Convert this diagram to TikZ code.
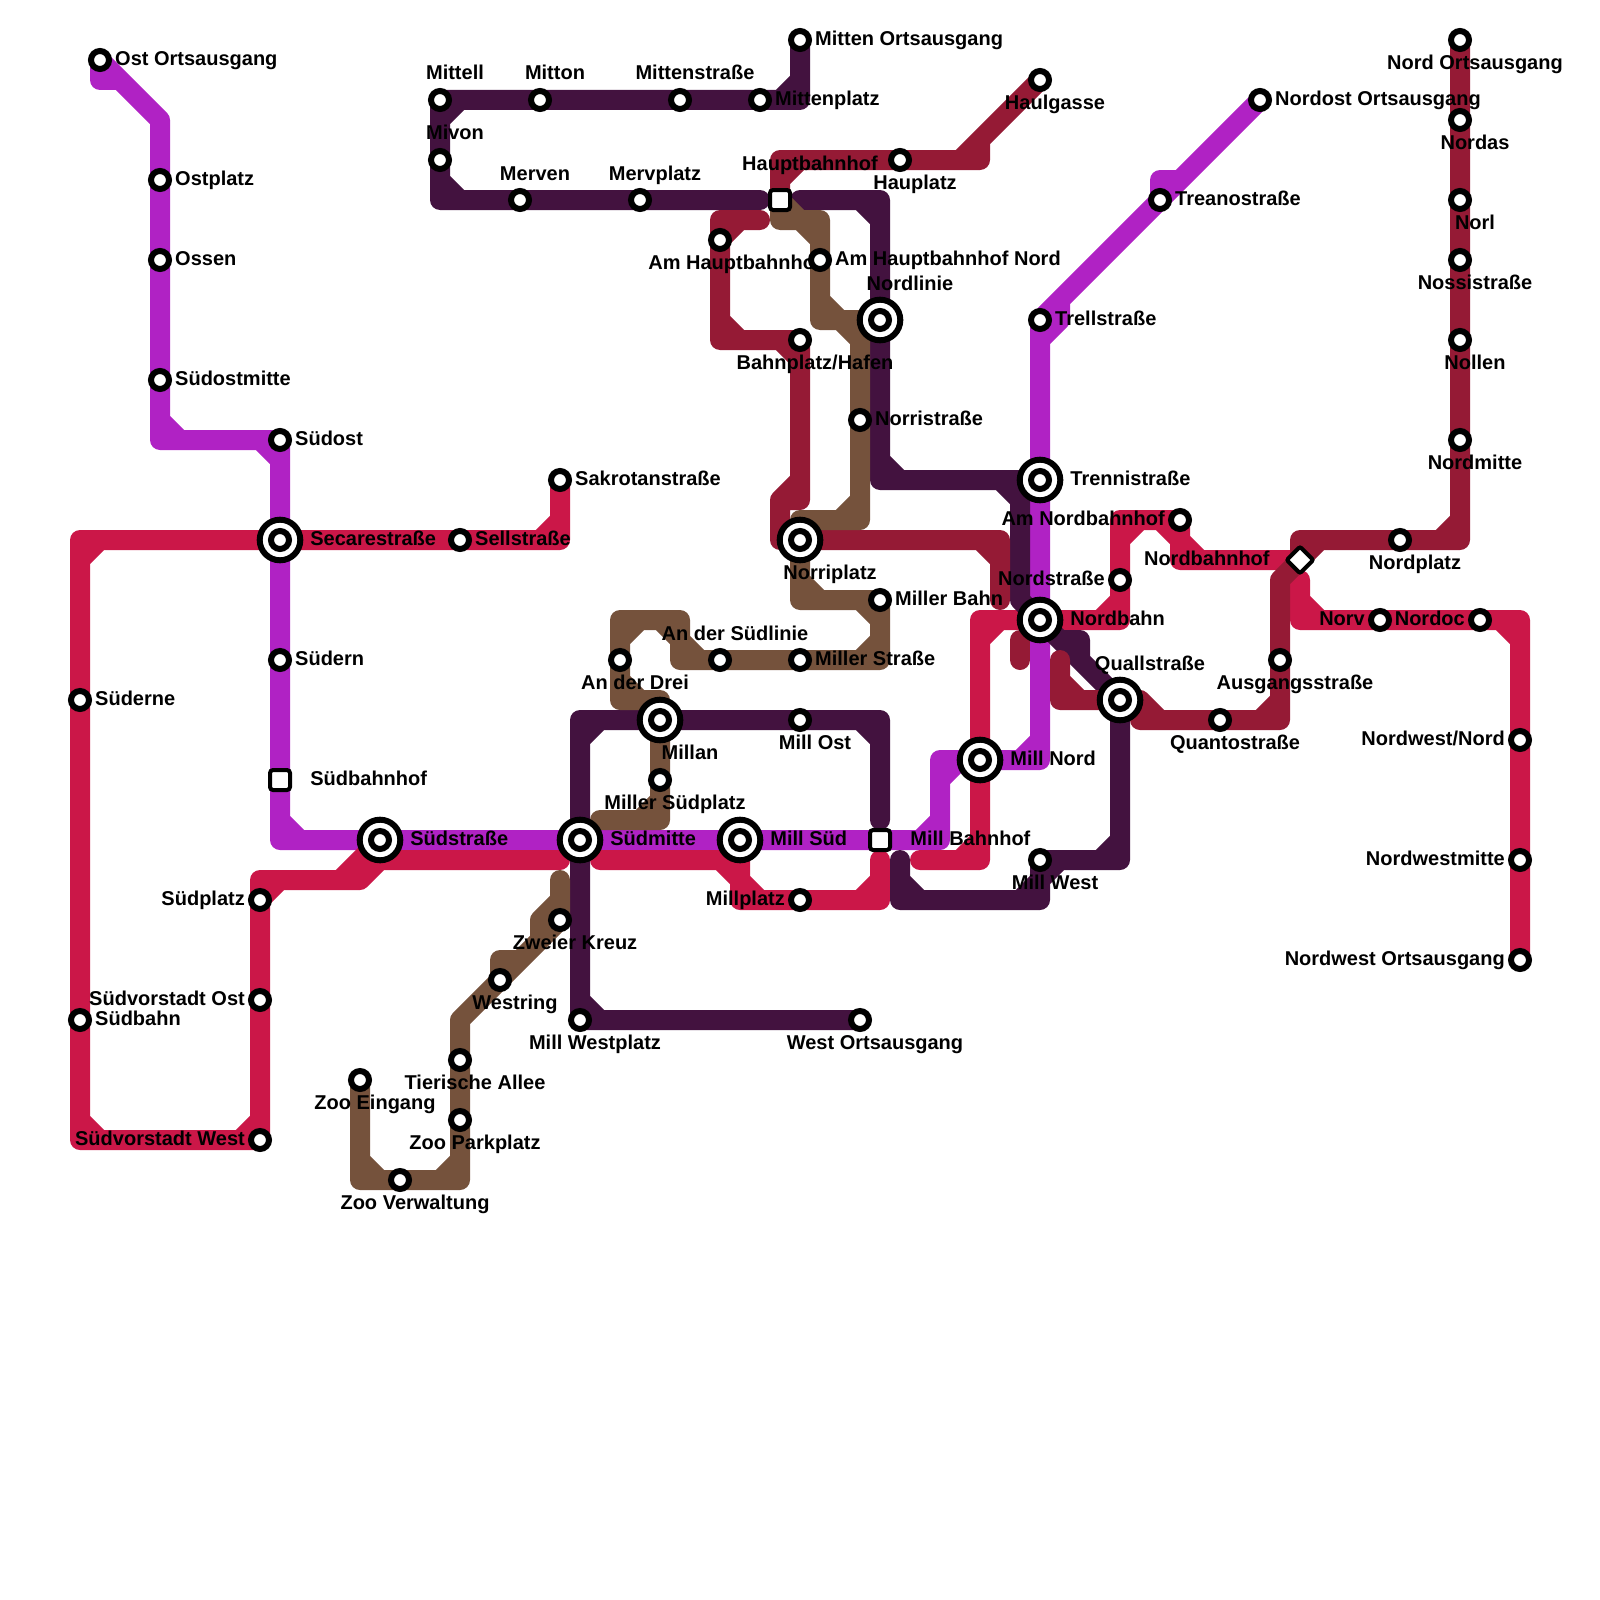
\documentclass[tikz,border=0pt]{standalone}
\usepackage{fontspec}
\setmainfont{Liberation Sans}
\usepackage{xcolor}
\definecolor{linepurple}{HTML}{B022C4}
\definecolor{linered}{HTML}{CB1748}
\definecolor{linedark}{HTML}{43123F}
\definecolor{linewine}{HTML}{951A35}
\definecolor{linebrown}{HTML}{75523C}

\tikzset{
  route/.style={draw=#1,line width=10pt,line join=round,line cap=round},
  stn/.style={circle,draw=black,fill=white,line width=3pt,inner sep=0pt,minimum size=9pt},
  hub/.style={circle,draw=black,fill=white,line width=3pt,inner sep=0pt,minimum size=20.3pt},
  stnsq/.style={rectangle,rounded corners=1.5pt,draw=black,fill=white,line width=2pt,inner sep=0pt,minimum size=10pt},
  stndm/.style={stnsq,rotate=45,rounded corners=1pt,minimum size=9.4pt},
  lbl/.style={font=\bfseries\fontsize{10pt}{12pt}\selectfont,inner sep=0pt,text height=7.2pt,text depth=2.6pt},
  lr/.style={lbl,anchor=west,xshift=7.4pt,yshift=-.4pt},
  ll/.style={lbl,anchor=east,xshift=-7.4pt,yshift=-.4pt},
  la/.style={lbl,xshift=7.5pt,yshift=12.3pt},
  lb/.style={lbl,xshift=7.5pt,yshift=-12.5pt},
  Lr/.style={lbl,anchor=west,xshift=15pt,yshift=-.4pt},
  Ll/.style={lbl,anchor=east,xshift=-15pt,yshift=-.4pt},
  La/.style={lbl,xshift=15pt,yshift=17.3pt},
  Lb/.style={lbl,xshift=15pt,yshift=-17.2pt}
}

\begin{document}
\begin{tikzpicture}[x=10pt,y=-10pt]

\useasboundingbox (0,0) rectangle (80,80);

% stops
\coordinate (ostort) at (5,3);
\coordinate (ostplatz) at (8,9);
\coordinate (ossen) at (8,13);
\coordinate (sudostm) at (8,19);
\coordinate (sudost) at (14,22);
\coordinate (secare) at (14,27);
\coordinate (sudern) at (14,33);
\coordinate (sudbf) at (14,39);
\coordinate (sudstr) at (19,42);
\coordinate (sudmitte) at (29,42);
\coordinate (millsud) at (37,42);
\coordinate (millbf) at (44,42);
\coordinate (millnord) at (49,38);
\coordinate (nordbahn) at (52,31);
\coordinate (trenni) at (52,24);
\coordinate (trell) at (52,16);
\coordinate (treano) at (58,10);
\coordinate (nordostort) at (63,5);
\coordinate (sakro) at (28,24);
\coordinate (sell) at (23,27);
\coordinate (suderne) at (4,35);
\coordinate (sudbahn) at (4,51);
\coordinate (svwest) at (13,57);
\coordinate (svost) at (13,50);
\coordinate (sudplatz) at (13,45);
\coordinate (millplatz) at (40,45);
\coordinate (nordstr) at (56,29);
\coordinate (amnord) at (59,26);
\coordinate (nordbf) at (65,28);
\coordinate (norv) at (69,31);
\coordinate (nordoc) at (74,31);
\coordinate (nwnord) at (76,37);
\coordinate (nwmitte) at (76,43);
\coordinate (nwort) at (76,48);
\coordinate (haul) at (52,4);
\coordinate (hauplatz) at (45,8);
\coordinate (hbf) at (39,10);
\coordinate (amhbf) at (36,12);
\coordinate (bahnpl) at (40,17);
\coordinate (norri) at (40,27);
\coordinate (quall) at (56,35);
\coordinate (quanto) at (61,36);
\coordinate (ausgang) at (64,33);
\coordinate (nordpl) at (70,27);
\coordinate (nordm) at (73,22);
\coordinate (nollen) at (73,17);
\coordinate (nossi) at (73,13);
\coordinate (norl) at (73,10);
\coordinate (nordas) at (73,6);
\coordinate (nordort) at (73,2);
\coordinate (mittenort) at (40,2);
\coordinate (mittenpl) at (38,5);
\coordinate (mittenstr) at (34,5);
\coordinate (mitton) at (27,5);
\coordinate (mittell) at (22,5);
\coordinate (mivon) at (22,8);
\coordinate (merven) at (26,10);
\coordinate (mervpl) at (32,10);
\coordinate (nordlinie) at (44,16);
\coordinate (millwest) at (52,43);
\coordinate (millost) at (40,36);
\coordinate (millan) at (33,36);
\coordinate (millwpl) at (29,51);
\coordinate (westort) at (43,51);
\coordinate (zooein) at (18,54);
\coordinate (zooverw) at (20,59);
\coordinate (zoopark) at (23,56);
\coordinate (tier) at (23,53);
\coordinate (westring) at (25,49);
\coordinate (zweier) at (28,46);
\coordinate (millsudpl) at (33,39);
\coordinate (andrei) at (31,33);
\coordinate (ansud) at (36,33);
\coordinate (millerstr) at (40,33);
\coordinate (millerbahn) at (44,30);
\coordinate (norrist) at (43,21);
\coordinate (amhbfn) at (41,13);

% purple
\draw[route=linepurple] (ostort) -- (5,4) -- (6,4) -- (8,6) -- (ostplatz) -- (ossen) -- (sudostm) -- (8,22) -- (sudost) -- (secare) -- (sudern) -- (sudbf) -- (14,42) -- (sudstr) -- (sudmitte) -- (millsud) -- (millbf) -- (47,42) -- (47,38) -- (millnord) -- (52,38) -- (nordbahn) -- (trenni) -- (trell) -- (53,16) -- (53,15) -- (treano) -- (58,9) -- (59,9) -- (nordostort)
  (ostort) -- (6,4) (8,21) -- (9,22) (13,22) -- (14,23) (14,41) -- (15,42) (46,42) -- (47,41) (47,39) -- (48,38) (51,38) -- (52,37) (52,17) -- (53,16) (trell) -- (53,15) (treano) -- (59,9);

% red
\draw[route=linered] (sakro) -- (28,27) -- (sell) -- (secare) -- (4,27) -- (suderne) -- (sudbahn) -- (4,57) -- (svwest) -- (svost) -- (sudplatz) -- (13,44) -- (18,44) -- (19,43) -- (28,43)
  (27,27) -- (28,26) (4,28) -- (5,27) (4,56) -- (5,57) (12,57) -- (13,56) (13,45) -- (14,44) (17,44) -- (sudstr) -- (19,43);
\draw[route=linered] (30,43) -- (37,43) -- (37,45) -- (millplatz) -- (44,45) -- (44,43)
  (millsud) -- (37,43) (36,43) -- (37,44) (37,44) -- (38,45) (43,45) -- (44,44);
\draw[route=linered] (46,43) -- (49,43) -- (49,31) -- (nordbahn) -- (56,31) -- (nordstr) -- (56,26) -- (amnord) -- (59,28) -- (nordbf)
  (48,43) -- (49,42) (49,32) -- (50,31) (55,31) -- (56,30) (56,27) -- (57,26) (58,26) -- (59,27) (59,27) -- (60,28);
\draw[route=linered] (65,29) -- (65,31) -- (norv) -- (nordoc) -- (76,31) -- (nwnord) -- (nwmitte) -- (nwort)
  (65,30) -- (66,31) (75,31) -- (76,32);

% dark purple
\draw[route=linedark] (mittenort) -- (40,5) -- (mittenpl) -- (mittenstr) -- (mitton) -- (mittell) -- (mivon) -- (22,10) -- (merven) -- (mervpl) -- (38,10)
  (39,5) -- (40,4) (22,6) -- (23,5) (22,9) -- (23,10);
\draw[route=linedark] (40,10) -- (44,10) -- (nordlinie) -- (44,24) -- (trenni) (51,24) -- (51,30) -- (nordbahn) -- (quall) -- (56,43) -- (millwest) -- (52,45) -- (45,45) -- (45,43)
  (43,10) -- (44,11) (44,23) -- (45,24) (50,24) -- (51,25) (53,32) -- (54,32) -- (54,33) -- (53,32) (55,43) -- (56,42) (52,44) -- (53,43) (51,45) -- (52,44) (45,44) -- (46,45);
\draw[route=linedark] (44,41) -- (44,36) -- (millost) -- (millan) -- (29,36) -- (sudmitte) -- (millwpl) -- (westort)
  (43,36) -- (44,37) (29,37) -- (30,36) (29,50) -- (30,51);

% wine
\draw[route=linewine] (haul) -- (49,7) -- (49,8) -- (hauplatz) -- (39,8) -- (hbf)
  (48,8) -- (49,7) (39,9) -- (40,8);
\draw[route=linewine] (38,11) -- (36,11) -- (amhbf) -- (36,17) -- (bahnpl) -- (40,25) -- (39,25) -- (39,27) -- (norri) -- (50,27) -- (50,30)
  (36,12) -- (37,11) (36,16) -- (37,17) (39,17) -- (40,18) (40,24) -- (39,25) (49,27) -- (50,28);
\draw[route=linewine] (51,32) -- (51,33);
\draw[route=linewine] (53,33) -- (53,35) -- (quall) -- (57,35) -- (58,36) -- (57,36) -- (quanto) -- (64,36) -- (ausgang) -- (64,29) -- (nordbf) -- (65,27) -- (nordpl) -- (73,27) -- (nordm) -- (nollen) -- (nossi) -- (norl) -- (nordas) -- (nordort)
  (53,34) -- (54,35) (63,36) -- (64,35) (nordbf) -- (66,27) (72,27) -- (73,26);

% brown
\draw[route=linebrown] (zooein) -- (18,59) -- (zooverw) -- (23,59) -- (zoopark) -- (tier) -- (23,51) -- (westring) -- (zweier) -- (28,44)
  (westring) -- (25,48) -- (26,48) (27,47) -- (27,46) -- (28,45) (18,58) -- (19,59) (22,59) -- (23,58);
\draw[route=linebrown] (30,41) -- (33,41) -- (millsudpl) -- (millan) -- (33,35) -- (31,35) -- (andrei) -- (31,31) -- (34,31) -- (34,33) -- (ansud) -- (millerstr) -- (44,33) -- (millerbahn) -- (40,30) -- (norri) -- (40,26) -- (43,26) -- (norrist) -- (43,16) -- (41,16) -- (amhbfn) -- (41,11) -- (39,11) -- (hbf)
  (32,41) -- (33,40) (31,34) -- (32,35) (31,32) -- (32,31) (33,31) -- (34,32) (34,32) -- (35,33) (43,33) -- (44,32) (43,30) -- (44,31) (40,29) -- (41,30) (42,26) -- (43,25) (42,16) -- (43,17) (41,15) -- (42,16) (40,11) -- (41,12) (hbf) -- (40,11);

% labels
\node[lr] (ostort-l) at (ostort) {Ost Ortsausgang};
\node[lr] (ostplatz-l) at (ostplatz) {Ostplatz};
\node[lr] (ossen-l) at (ossen) {Ossen};
\node[lr] (sudostm-l) at (sudostm) {Südostmitte};
\node[lr] (sudost-l) at (sudost) {Südost};
\node[Lr] (secare-l) at (secare) {Secarestraße};
\node[lr] (sudern-l) at (sudern) {Südern};
\node[Lr] (sudbf-l) at (sudbf) {Südbahnhof};
\node[Lr] (sudstr-l) at (sudstr) {Südstraße};
\node[Lr] (sudmitte-l) at (sudmitte) {Südmitte};
\node[Lr] (millsud-l) at (millsud) {Mill Süd};
\node[Lr] (millbf-l) at (millbf) {Mill Bahnhof};
\node[Lr] (millnord-l) at (millnord) {Mill Nord};
\node[Lr] (nordbahn-l) at (nordbahn) {Nordbahn};
\node[Lr] (trenni-l) at (trenni) {Trennistraße};
\node[lr] (trell-l) at (trell) {Trellstraße};
\node[lr] (treano-l) at (treano) {Treanostraße};
\node[lr] (nordostort-l) at (nordostort) {Nordost Ortsausgang};
\node[lr] (sakro-l) at (sakro) {Sakrotanstraße};
\node[lr] (sell-l) at (sell) {Sellstraße};
\node[lr] (suderne-l) at (suderne) {Süderne};
\node[lr] (sudbahn-l) at (sudbahn) {Südbahn};
\node[ll] (svwest-l) at (svwest) {Südvorstadt West};
\node[ll] (svost-l) at (svost) {Südvorstadt Ost};
\node[ll] (sudplatz-l) at (sudplatz) {Südplatz};
\node[ll] (millplatz-l) at (millplatz) {Millplatz};
\node[ll] (nordstr-l) at (nordstr) {Nordstraße};
\node[ll] (amnord-l) at (amnord) {Am Nordbahnhof};
\node[Ll] (nordbf-l) at (nordbf) {Nordbahnhof};
\node[ll] (norv-l) at (norv) {Norv};
\node[ll] (nordoc-l) at (nordoc) {Nordoc};
\node[ll] (nwnord-l) at (nwnord) {Nordwest/Nord};
\node[ll] (nwmitte-l) at (nwmitte) {Nordwestmitte};
\node[ll] (nwort-l) at (nwort) {Nordwest Ortsausgang};
\node[lb] (haul-l) at (haul) {Haulgasse};
\node[lb] (hauplatz-l) at (hauplatz) {Hauplatz};
\node[La] (hbf-l) at (hbf) {Hauptbahnhof};
\node[lb] (amhbf-l) at (amhbf) {Am Hauptbahnhof};
\node[lb] (bahnpl-l) at (bahnpl) {Bahnplatz/Hafen};
\node[Lb] (norri-l) at (norri) {Norriplatz};
\node[La] (quall-l) at (quall) {Quallstraße};
\node[lb] (quanto-l) at (quanto) {Quantostraße};
\node[lb] (ausgang-l) at (ausgang) {Ausgangsstraße};
\node[lb] (nordpl-l) at (nordpl) {Nordplatz};
\node[lb] (nordm-l) at (nordm) {Nordmitte};
\node[lb] (nollen-l) at (nollen) {Nollen};
\node[lb] (nossi-l) at (nossi) {Nossistraße};
\node[lb] (norl-l) at (norl) {Norl};
\node[lb] (nordas-l) at (nordas) {Nordas};
\node[lb] (nordort-l) at (nordort) {Nord Ortsausgang};
\node[lr] (mittenort-l) at (mittenort) {Mitten Ortsausgang};
\node[lr] (mittenpl-l) at (mittenpl) {Mittenplatz};
\node[la] (mittenstr-l) at (mittenstr) {Mittenstraße};
\node[la] (mitton-l) at (mitton) {Mitton};
\node[la] (mittell-l) at (mittell) {Mittell};
\node[la] (mivon-l) at (mivon) {Mivon};
\node[la] (merven-l) at (merven) {Merven};
\node[la] (mervpl-l) at (mervpl) {Mervplatz};
\node[La] (nordlinie-l) at (nordlinie) {Nordlinie};
\node[lb] (millwest-l) at (millwest) {Mill West};
\node[lb] (millost-l) at (millost) {Mill Ost};
\node[Lb] (millan-l) at (millan) {Millan};
\node[lb] (millwpl-l) at (millwpl) {Mill Westplatz};
\node[lb] (westort-l) at (westort) {West Ortsausgang};
\node[lb] (zooein-l) at (zooein) {Zoo Eingang};
\node[lb] (zooverw-l) at (zooverw) {Zoo Verwaltung};
\node[lb] (zoopark-l) at (zoopark) {Zoo Parkplatz};
\node[lb] (tier-l) at (tier) {Tierische Allee};
\node[lb] (westring-l) at (westring) {Westring};
\node[lb] (zweier-l) at (zweier) {Zweier Kreuz};
\node[lb] (millsudpl-l) at (millsudpl) {Miller Südplatz};
\node[lb] (andrei-l) at (andrei) {An der Drei};
\node[la] (ansud-l) at (ansud) {An der Südlinie};
\node[lr] (millerstr-l) at (millerstr) {Miller Straße};
\node[lr] (millerbahn-l) at (millerbahn) {Miller Bahn};
\node[lr] (norrist-l) at (norrist) {Norristraße};
\node[lr] (amhbfn-l) at (amhbfn) {Am Hauptbahnhof Nord};

% stop marks
\foreach \s in {secare,sudstr,sudmitte,millsud,millnord,nordbahn,trenni,norri,nordlinie,millan,quall}
  \node[hub] (\s-h) at (\s) {};
\foreach \s in {sudbf,millbf,hbf}
  \node[stnsq] (\s-s) at (\s) {};
\node[stndm] (nordbf-s) at (nordbf) {};
\foreach \s in {ostort,ostplatz,ossen,sudostm,sudost,secare,sudern,sudstr,sudmitte,millsud,millnord,nordbahn,trenni,trell,treano,nordostort,sakro,sell,suderne,sudbahn,svwest,svost,sudplatz,millplatz,nordstr,amnord,norv,nordoc,nwnord,nwmitte,nwort,haul,hauplatz,amhbf,bahnpl,norri,quall,quanto,ausgang,nordpl,nordm,nollen,nossi,norl,nordas,nordort,mittenort,mittenpl,mittenstr,mitton,mittell,mivon,merven,mervpl,nordlinie,millwest,millost,millan,millwpl,westort,zooein,zooverw,zoopark,tier,westring,zweier,millsudpl,andrei,ansud,millerstr,millerbahn,norrist,amhbfn}
  \node[stn] (\s-s) at (\s) {};

\end{tikzpicture}
\end{document}
